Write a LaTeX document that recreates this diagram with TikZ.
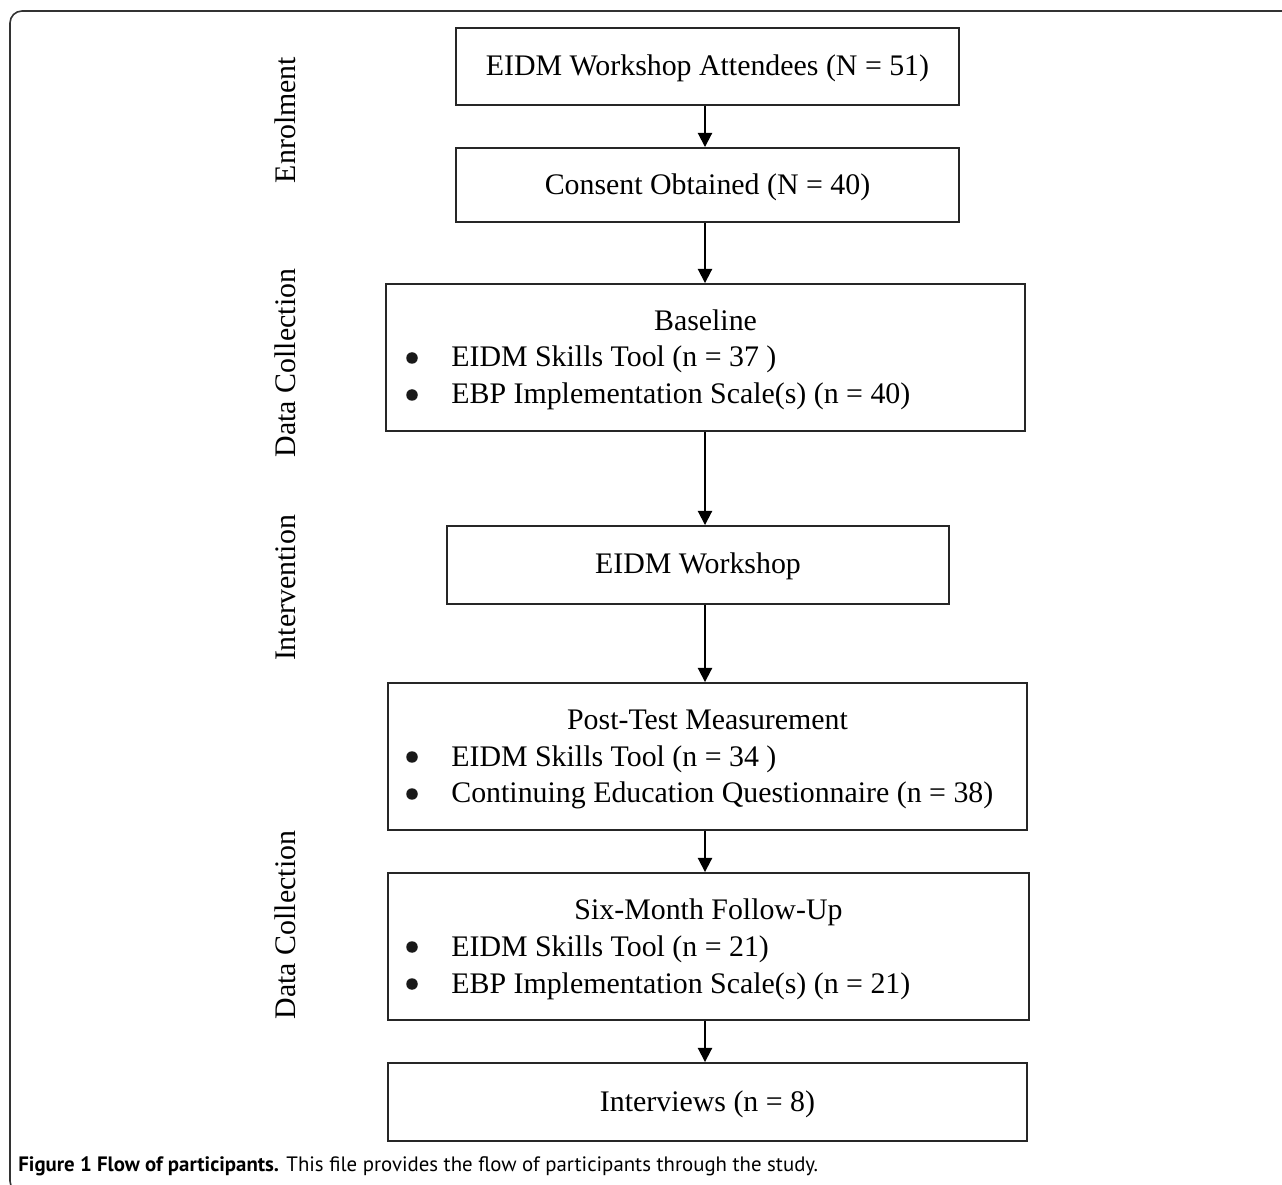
\documentclass[tikz,border=0pt]{standalone}
\usepackage{fontspec}
\setmainfont{Liberation Serif}
\newfontfamily\capfont{PT Sans}
\usetikzlibrary{arrows.meta}

\tikzset{
  box/.style={draw=black!85, line width=1.1pt, inner sep=0pt},
  txt/.style={font=\fontsize{17}{20}\selectfont, inner sep=0pt, anchor=base},
  dot/.style={circle, fill=black!90, inner sep=0pt, minimum size=0.23cm},
  side/.style={font=\fontsize{17}{20}\selectfont, inner sep=0pt, rotate=90, anchor=base},
  arr/.style={line width=1.1pt, -{Triangle[width=8pt,length=8pt]}},
}

\begin{document}
\begin{tikzpicture}[x=0.02cm,y=-0.02cm]
        \useasboundingbox (0,0) rectangle (1282,1185);
        \clip (0,0) rectangle (1282,1185);
        % 外框
        \draw [black!80, line width=0.9pt, rounded corners=0.24cm] (10,11) rectangle (1310,1193);
        % 方框
        \node [box, minimum width=10.06cm, minimum height=1.54cm] (att)  at (707.5,66.5) {};
        \node [box, minimum width=10.06cm, minimum height=1.48cm] (cons) at (707.5,185) {};
        \node [box, minimum width=12.78cm, minimum height=2.94cm] (base) at (705.5,357.5) {};
        \node [box, minimum width=10.04cm, minimum height=1.56cm] (work) at (698,565) {};
        \node [box, minimum width=12.78cm, minimum height=2.94cm] (post) at (707.5,756.5) {};
        \node [box, minimum width=12.82cm, minimum height=2.94cm] (six)  at (708.5,946.5) {};
        \node [box, minimum width=12.78cm, minimum height=1.56cm] (intv) at (707.5,1102) {};
        % 文字
        \node [txt] (t-att)  at (707.5,76) {EIDM Workshop Attendees (N = 51)};
        \node [txt] (t-cons) at (707.5,195) {Consent Obtained (N = 40)};
        \node [txt] (t-base) at (705.5,331) {Baseline};
        \node [dot] (b1) at (412,358) {};
        \node [txt, anchor=base west] (l1) at (451,367) {EIDM Skills Tool (n = 37 )};
        \node [dot] (b2) at (412,395) {};
        \node [txt, anchor=base west] (l2) at (451,404) {EBP Implementation Scale(s) (n = 40)};
        \node [txt] (t-work) at (698,574) {EIDM Workshop};
        \node [txt] (t-post) at (707.5,729) {Post-Test Measurement};
        \node [dot] (b3) at (412,757) {};
        \node [txt, anchor=base west] (l3) at (451,766) {EIDM Skills Tool (n = 34 )};
        \node [dot] (b4) at (412,794) {};
        \node [txt, anchor=base west] (l4) at (451,803) {Continuing Education Questionnaire (n = 38)};
        \node [txt] (t-six) at (708.5,919) {Six-Month Follow-Up};
        \node [dot] (b5) at (412,947) {};
        \node [txt, anchor=base west] (l5) at (451,956) {EIDM Skills Tool (n = 21)};
        \node [dot] (b6) at (412,984) {};
        \node [txt, anchor=base west] (l6) at (451,993) {EBP Implementation Scale(s) (n = 21)};
        \node [txt] (t-intv) at (707.5,1111) {Interviews (n = 8)};
        % 侧标签
        \node [side] (s1) at (295,120) {Enrolment};
        \node [side] (s2) at (295,363) {Data Collection};
        \node [side] (s3) at (295,588) {Intervention};
        \node [side] (s4) at (295,925) {Data Collection};
        % 箭头
        \coordinate (ax) at (705,0);
        \draw [arr] (att.south -| ax)  -- (cons.north -| ax);
        \draw [arr] (cons.south -| ax) -- (base.north -| ax);
        \draw [arr] (base.south -| ax) -- (work.north -| ax);
        \draw [arr] (work.south -| ax) -- (post.north -| ax);
        \draw [arr] (post.south -| ax) -- (six.north -| ax);
        \draw [arr] (six.south -| ax)  -- (intv.north -| ax);
        % 图注
        \node [inner sep=0pt, anchor=base west, font=\capfont\fontsize{11.85}{14}\selectfont] (cap) at (18,1171)
            {\textbf{Figure 1 Flow of participants.} This file provides the flow of participants through the study.};
\end{tikzpicture}
\end{document}
